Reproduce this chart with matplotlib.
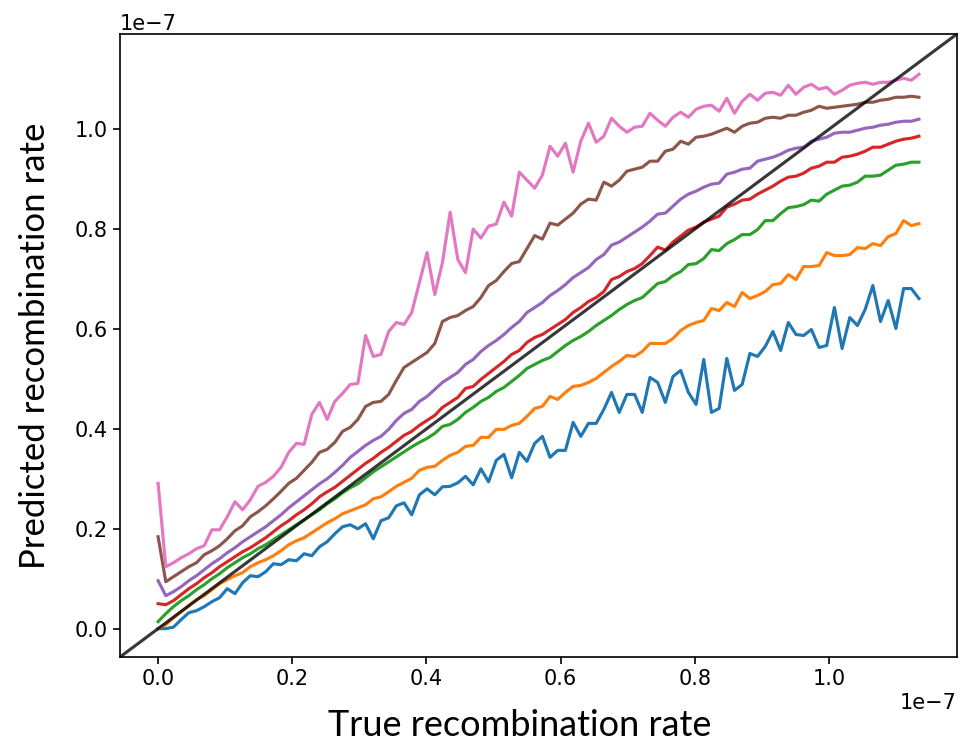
import numpy as np
import matplotlib
matplotlib.use("Agg")
import matplotlib.pyplot as plt

x_max = 1.134e-7
n_points = 100
true_rate = np.linspace(0, x_max, n_points)

blue = [0.000, 0.000, 0.003, 0.018, 0.032, 0.036, 0.044, 0.054, 0.062, 0.080,
        0.070, 0.092, 0.106, 0.104, 0.114, 0.130, 0.128, 0.138, 0.136, 0.150,
        0.146, 0.164, 0.174, 0.190, 0.204, 0.208, 0.200, 0.210, 0.180, 0.216,
        0.222, 0.246, 0.252, 0.228, 0.268, 0.280, 0.268, 0.284, 0.285, 0.292,
        0.305, 0.288, 0.320, 0.294, 0.337, 0.349, 0.302, 0.353, 0.335, 0.371,
        0.385, 0.343, 0.357, 0.357, 0.413, 0.385, 0.411, 0.411, 0.439, 0.473,
        0.433, 0.469, 0.469, 0.433, 0.503, 0.493, 0.453, 0.505, 0.517, 0.473,
        0.449, 0.539, 0.433, 0.441, 0.541, 0.477, 0.489, 0.551, 0.545, 0.565,
        0.595, 0.557, 0.613, 0.589, 0.587, 0.599, 0.563, 0.567, 0.643, 0.561,
        0.623, 0.607, 0.639, 0.687, 0.615, 0.657, 0.601, 0.681, 0.681, 0.661]

orange = [0.000, 0.008, 0.022, 0.034, 0.046, 0.058, 0.066, 0.078, 0.090, 0.098,
          0.106, 0.112, 0.124, 0.132, 0.138, 0.146, 0.156, 0.168, 0.176, 0.182,
          0.192, 0.202, 0.212, 0.220, 0.230, 0.236, 0.242, 0.248, 0.260, 0.264,
          0.274, 0.285, 0.293, 0.301, 0.317, 0.323, 0.325, 0.337, 0.347, 0.353,
          0.365, 0.367, 0.383, 0.383, 0.399, 0.399, 0.407, 0.411, 0.425, 0.441,
          0.445, 0.465, 0.459, 0.473, 0.485, 0.487, 0.493, 0.501, 0.513, 0.525,
          0.535, 0.547, 0.545, 0.555, 0.571, 0.571, 0.571, 0.581, 0.597, 0.607,
          0.613, 0.617, 0.641, 0.637, 0.653, 0.645, 0.673, 0.661, 0.667, 0.675,
          0.689, 0.691, 0.709, 0.699, 0.725, 0.725, 0.727, 0.753, 0.747, 0.747,
          0.749, 0.763, 0.761, 0.771, 0.767, 0.785, 0.791, 0.817, 0.807, 0.811]

green = [0.014, 0.030, 0.044, 0.056, 0.066, 0.078, 0.088, 0.100, 0.110, 0.122,
         0.132, 0.142, 0.150, 0.160, 0.168, 0.178, 0.188, 0.198, 0.208, 0.218,
         0.228, 0.238, 0.250, 0.260, 0.272, 0.282, 0.290, 0.302, 0.314, 0.324,
         0.334, 0.344, 0.354, 0.364, 0.373, 0.381, 0.391, 0.405, 0.409, 0.419,
         0.433, 0.443, 0.455, 0.463, 0.475, 0.483, 0.495, 0.507, 0.521, 0.529,
         0.537, 0.543, 0.555, 0.567, 0.577, 0.585, 0.595, 0.607, 0.617, 0.627,
         0.639, 0.649, 0.657, 0.663, 0.677, 0.691, 0.695, 0.707, 0.715, 0.729,
         0.731, 0.741, 0.759, 0.757, 0.771, 0.779, 0.789, 0.789, 0.799, 0.817,
         0.817, 0.831, 0.843, 0.845, 0.849, 0.858, 0.856, 0.870, 0.878, 0.886,
         0.888, 0.894, 0.906, 0.906, 0.908, 0.918, 0.928, 0.930, 0.934, 0.934]

red = [0.050, 0.048, 0.056, 0.068, 0.080, 0.090, 0.102, 0.112, 0.124, 0.134,
       0.144, 0.154, 0.162, 0.172, 0.182, 0.194, 0.206, 0.216, 0.228, 0.238,
       0.250, 0.264, 0.274, 0.283, 0.295, 0.307, 0.319, 0.331, 0.341, 0.353,
       0.363, 0.375, 0.387, 0.395, 0.407, 0.417, 0.427, 0.443, 0.453, 0.463,
       0.481, 0.485, 0.499, 0.511, 0.523, 0.535, 0.549, 0.557, 0.573, 0.583,
       0.589, 0.599, 0.609, 0.619, 0.633, 0.643, 0.655, 0.663, 0.675, 0.699,
       0.705, 0.715, 0.721, 0.731, 0.747, 0.764, 0.758, 0.774, 0.786, 0.798,
       0.804, 0.814, 0.820, 0.826, 0.844, 0.850, 0.858, 0.860, 0.870, 0.878,
       0.886, 0.896, 0.904, 0.906, 0.912, 0.922, 0.926, 0.934, 0.934, 0.944,
       0.946, 0.950, 0.956, 0.964, 0.964, 0.970, 0.976, 0.980, 0.982, 0.986]

purple = [0.096, 0.066, 0.074, 0.084, 0.096, 0.106, 0.118, 0.130, 0.140, 0.152,
          0.162, 0.174, 0.184, 0.194, 0.204, 0.216, 0.228, 0.242, 0.254, 0.266,
          0.278, 0.290, 0.300, 0.313, 0.327, 0.343, 0.355, 0.367, 0.377, 0.385,
          0.399, 0.417, 0.431, 0.439, 0.455, 0.465, 0.479, 0.493, 0.503, 0.513,
          0.529, 0.539, 0.555, 0.567, 0.577, 0.589, 0.603, 0.615, 0.633, 0.643,
          0.653, 0.667, 0.677, 0.689, 0.703, 0.713, 0.723, 0.739, 0.749, 0.768,
          0.774, 0.784, 0.794, 0.804, 0.816, 0.830, 0.832, 0.846, 0.860, 0.870,
          0.876, 0.884, 0.890, 0.892, 0.910, 0.914, 0.920, 0.922, 0.936, 0.940,
          0.944, 0.950, 0.958, 0.962, 0.964, 0.976, 0.980, 0.984, 0.992, 0.994,
          0.994, 0.998, 1.002, 1.004, 1.008, 1.010, 1.014, 1.016, 1.016, 1.020]

brown = [0.184, 0.094, 0.104, 0.114, 0.124, 0.132, 0.148, 0.156, 0.166, 0.180,
         0.196, 0.206, 0.224, 0.234, 0.246, 0.260, 0.275, 0.291, 0.301, 0.317,
         0.333, 0.353, 0.359, 0.373, 0.395, 0.403, 0.419, 0.445, 0.453, 0.455,
         0.469, 0.497, 0.523, 0.533, 0.543, 0.553, 0.571, 0.615, 0.623, 0.627,
         0.637, 0.645, 0.663, 0.687, 0.697, 0.715, 0.731, 0.735, 0.761, 0.787,
         0.780, 0.812, 0.808, 0.820, 0.832, 0.850, 0.860, 0.858, 0.894, 0.886,
         0.898, 0.916, 0.920, 0.924, 0.936, 0.936, 0.956, 0.960, 0.976, 0.970,
         0.984, 0.986, 0.990, 0.996, 1.002, 0.994, 1.006, 1.012, 1.014, 1.022,
         1.024, 1.022, 1.028, 1.028, 1.034, 1.038, 1.046, 1.042, 1.044, 1.046,
         1.048, 1.050, 1.054, 1.054, 1.058, 1.060, 1.064, 1.064, 1.066, 1.064]

pink = [0.291, 0.124, 0.132, 0.142, 0.150, 0.160, 0.166, 0.198, 0.198, 0.224,
        0.254, 0.238, 0.258, 0.285, 0.293, 0.305, 0.323, 0.353, 0.371, 0.369,
        0.429, 0.453, 0.419, 0.455, 0.471, 0.489, 0.491, 0.587, 0.545, 0.549,
        0.595, 0.613, 0.609, 0.633, 0.693, 0.753, 0.669, 0.733, 0.834, 0.739,
        0.713, 0.800, 0.782, 0.806, 0.810, 0.854, 0.826, 0.914, 0.898, 0.882,
        0.908, 0.966, 0.946, 0.972, 0.914, 0.976, 1.012, 0.974, 0.986, 1.022,
        1.006, 0.994, 1.004, 1.006, 1.032, 1.018, 1.006, 1.024, 1.034, 1.024,
        1.040, 1.046, 1.048, 1.036, 1.062, 1.032, 1.056, 1.070, 1.058, 1.072,
        1.074, 1.068, 1.088, 1.070, 1.084, 1.090, 1.080, 1.084, 1.070, 1.078,
        1.088, 1.092, 1.094, 1.090, 1.094, 1.094, 1.098, 1.102, 1.098, 1.110]

series = [blue, orange, green, red, purple, brown, pink]
colors = ["tab:blue", "tab:orange", "tab:green", "tab:red",
          "tab:purple", "tab:brown", "tab:pink"]
scale = 1e-7

fig = plt.figure(figsize=(9.65, 7.42), dpi=100)
ax = fig.add_axes([0.1244, 0.1146, 0.8673, 0.8396])

for vals, c in zip(series, colors):
    ax.plot(true_rate, np.array(vals) * scale, color=c, lw=2.25)

lo = -0.05 * x_max
hi = 1.05 * x_max
ax.set_xlim(lo, hi)
ax.set_ylim(lo, hi)
ax.axline((0, 0), slope=1, color="k", alpha=0.78, lw=2.25, zorder=5)

ax.tick_params(labelsize=15, length=5.25, width=1.2)
for s in ax.spines.values():
    s.set_linewidth(1.2)
ax.xaxis.get_offset_text().set_fontsize(15)
ax.yaxis.get_offset_text().set_fontsize(15)

ax.set_xlabel("True recombination rate", fontsize=26, family="Lato", labelpad=14)
ax.xaxis.label.set_x(0.478)
ax.set_ylabel("Predicted recombination rate", fontsize=25, family="Lato", labelpad=17)

fig.savefig("out.png", dpi=100)
